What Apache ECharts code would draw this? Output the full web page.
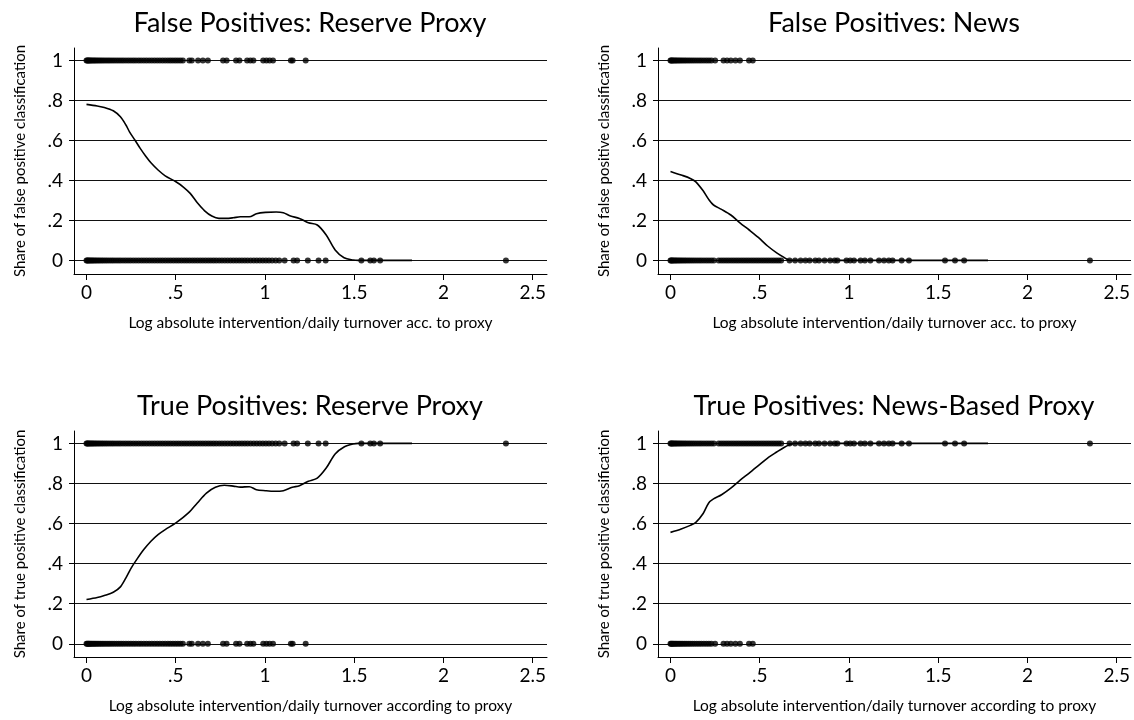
<!DOCTYPE html>
<html>
<head>
<meta charset="utf-8">
<script src="https://cdn.jsdelivr.net/npm/echarts@6/dist/echarts.min.js"></script>
<style>
html,body{margin:0;padding:0;background:#fff;}
#chart{width:1134px;height:720px;}
</style>
</head>
<body>
<div id="chart"></div>
<script>
// ---------- data ----------
const panelTitles = [
  "False Positives: Reserve Proxy",
  "False Positives: News",
  "True Positives: Reserve Proxy",
  "True Positives: News-Based Proxy"
];
const yAxisNames = [
  "Share of false positive classification",
  "Share of false positive classification",
  "Share of true positive classification",
  "Share of true positive classification"
];
const xAxisNames = [
  "Log absolute intervention/daily turnover acc. to proxy",
  "Log absolute intervention/daily turnover acc. to proxy",
  "Log absolute intervention/daily turnover according to proxy",
  "Log absolute intervention/daily turnover according to proxy"
];
const xTickValues = [0, 0.5, 1, 1.5, 2, 2.5];
const xTickLabels = ["0", ".5", "1", "1.5", "2", "2.5"];
const yTickValues = [0, 0.2, 0.4, 0.6, 0.8, 1];
const yTickLabels = ["0", ".2", ".4", ".6", ".8", "1"];

// observations (x positions): reserve proxy, false positives
const reserveFalseX = [0, 0.004, 0.009, 0.013, 0.018, 0.024, 0.03, 0.037, 0.044, 0.052, 0.06, 0.069, 0.078, 0.088, 0.098, 0.109, 0.12, 0.131, 0.143, 0.155, 0.168, 0.181, 0.194, 0.207, 0.221, 0.235, 0.249, 0.263, 0.277, 0.292, 0.306, 0.321, 0.336, 0.351, 0.366, 0.381, 0.396, 0.411, 0.426, 0.441, 0.456, 0.47, 0.484, 0.498, 0.512, 0.526, 0.54,
  0.576, 0.59, 0.625, 0.652, 0.68, 0.765, 0.785, 0.838, 0.857, 0.9, 0.918, 0.935, 0.99, 1.008, 1.026, 1.045, 1.145, 1.155, 1.228];
// reserve proxy, true positives
const reserveTrueX = [0, 0.004, 0.009, 0.014, 0.02, 0.026, 0.033, 0.04, 0.048, 0.056, 0.065, 0.074, 0.084, 0.094, 0.105, 0.116, 0.128, 0.14, 0.152, 0.165, 0.178, 0.191, 0.205, 0.219, 0.233, 0.247, 0.262, 0.277, 0.292, 0.307, 0.322, 0.337, 0.352, 0.367, 0.382, 0.397, 0.412, 0.427, 0.442, 0.457, 0.472, 0.487, 0.502, 0.517, 0.532, 0.547, 0.562, 0.577, 0.592, 0.607, 0.622, 0.637, 0.652, 0.667, 0.682, 0.697, 0.712, 0.727, 0.743, 0.759, 0.775, 0.791, 0.807, 0.823, 0.839, 0.855, 0.871, 0.887, 0.903, 0.92, 0.937, 0.954, 0.971, 0.988, 1.005, 1.022,
  1.04, 1.06, 1.08, 1.11, 1.16, 1.18, 1.24, 1.3, 1.34, 1.54, 1.59, 1.61, 1.645, 2.35];
// news proxy, false positives
const newsFalseX = [0, 0.004, 0.009, 0.014, 0.02, 0.027, 0.034, 0.042, 0.05, 0.059, 0.068, 0.078, 0.088, 0.099, 0.11, 0.122, 0.134, 0.147, 0.16, 0.173, 0.187, 0.201, 0.215, 0.229,
  0.25, 0.297, 0.317, 0.338, 0.364, 0.389, 0.44, 0.461];
// news proxy, true positives
const newsTrueX = [0, 0.004, 0.009, 0.014, 0.02, 0.027, 0.034, 0.042, 0.05, 0.059, 0.068, 0.078, 0.088, 0.099, 0.11, 0.122, 0.134, 0.147, 0.16, 0.173, 0.187, 0.201, 0.215, 0.229, 0.243, 0.27, 0.284, 0.298, 0.312, 0.326, 0.34, 0.354, 0.368, 0.382, 0.396, 0.41, 0.424, 0.438, 0.452, 0.466, 0.48, 0.494, 0.508, 0.522, 0.536, 0.55, 0.564, 0.578, 0.592, 0.606, 0.62,
  0.667, 0.698, 0.729, 0.756, 0.78, 0.811, 0.832, 0.863, 0.894, 0.92, 0.935, 0.986, 1.007, 1.028, 1.065, 1.089, 1.12, 1.168, 1.196, 1.223, 1.244, 1.295, 1.336, 1.538, 1.594, 1.645, 2.35];

// lowess smooths
const lowessReserveFalseX = [0, 0.06, 0.1, 0.15, 0.19, 0.221, 0.241, 0.271, 0.301, 0.331, 0.361, 0.401, 0.441, 0.501, 0.541, 0.581, 0.621, 0.662, 0.702, 0.742, 0.782, 0.822, 0.862, 0.912, 0.952, 1.002, 1.063, 1.103, 1.143, 1.193, 1.243, 1.293, 1.343, 1.393, 1.443, 1.494, 1.524, 1.824];
const lowessReserveFalseY = [0.78, 0.772, 0.765, 0.748, 0.718, 0.677, 0.643, 0.602, 0.56, 0.522, 0.488, 0.452, 0.423, 0.393, 0.368, 0.335, 0.288, 0.248, 0.222, 0.21, 0.21, 0.213, 0.218, 0.218, 0.233, 0.24, 0.242, 0.238, 0.222, 0.21, 0.188, 0.177, 0.127, 0.052, 0.013, 0.002, 0, 0];
const lowessNewsFalseX = [0, 0.06, 0.111, 0.142, 0.183, 0.214, 0.241, 0.286, 0.338, 0.389, 0.441, 0.492, 0.544, 0.595, 0.636, 0.667, 1.779];
const lowessNewsFalseY = [0.445, 0.427, 0.41, 0.393, 0.348, 0.305, 0.277, 0.255, 0.227, 0.188, 0.152, 0.115, 0.072, 0.038, 0.015, 0, 0];
const lowessReserveTrueX = [0, 0.06, 0.1, 0.15, 0.19, 0.221, 0.251, 0.281, 0.321, 0.361, 0.401, 0.441, 0.501, 0.571, 0.621, 0.672, 0.722, 0.772, 0.822, 0.862, 0.912, 0.952, 1.002, 1.052, 1.103, 1.153, 1.193, 1.243, 1.293, 1.343, 1.393, 1.443, 1.494, 1.524, 1.824];
const lowessReserveTrueY = [0.221, 0.231, 0.241, 0.257, 0.284, 0.329, 0.379, 0.42, 0.47, 0.512, 0.545, 0.57, 0.603, 0.653, 0.703, 0.752, 0.781, 0.791, 0.787, 0.782, 0.784, 0.769, 0.764, 0.761, 0.764, 0.781, 0.789, 0.811, 0.827, 0.877, 0.947, 0.982, 0.997, 1, 1];
const lowessNewsTrueX = [0, 0.06, 0.111, 0.142, 0.183, 0.214, 0.241, 0.286, 0.338, 0.389, 0.441, 0.492, 0.544, 0.595, 0.636, 0.667, 0.698, 1.779];
const lowessNewsTrueY = [0.556, 0.573, 0.591, 0.606, 0.65, 0.703, 0.723, 0.744, 0.777, 0.816, 0.852, 0.889, 0.927, 0.957, 0.98, 0.993, 1, 1];

// ---------- chart ----------
const FONT = 'Lato';
const grids = [
  {left: 74, top: 48, width: 473, height: 226},
  {left: 658, top: 48, width: 473, height: 226},
  {left: 74, top: 431, width: 473, height: 226},
  {left: 658, top: 431, width: 473, height: 226}
];
const titleCenters = [[310, 10], [894, 10], [310, 393], [894, 393]];

function pts(xs, y) { return xs.map(x => [x, y]); }
function line(xs, ys) { return xs.map((x, i) => [x, ys[i]]); }

const panels = [
  {one: reserveFalseX, zero: reserveTrueX, lx: lowessReserveFalseX, ly: lowessReserveFalseY},
  {one: newsFalseX, zero: newsTrueX, lx: lowessNewsFalseX, ly: lowessNewsFalseY},
  {one: reserveTrueX, zero: reserveFalseX, lx: lowessReserveTrueX, ly: lowessReserveTrueY},
  {one: newsTrueX, zero: newsFalseX, lx: lowessNewsTrueX, ly: lowessNewsTrueY}
];

const xAxes = [], yAxes = [], series = [], titles = [];
panels.forEach((p, i) => {
  titles.push({
    text: panelTitles[i], left: titleCenters[i][0], top: titleCenters[i][1],
    textAlign: 'center', padding: 0,
    textStyle: {fontFamily: FONT, fontSize: 27, fontWeight: 'normal', color: '#000'}
  });
  xAxes.push({
    type: 'value', gridIndex: i, min: -0.07, max: 2.58,
    axisLine: {show: true, onZero: false, lineStyle: {color: '#000', width: 1}},
    axisTick: {show: true, length: 6, customValues: xTickValues, lineStyle: {color: '#000', width: 1}},
    axisLabel: {customValues: xTickValues, margin: 9, fontFamily: FONT, fontSize: 19, color: '#000',
      formatter: v => xTickLabels[xTickValues.findIndex(t => Math.abs(t - v) < 1e-9)]},
    splitLine: {show: false},
    name: xAxisNames[i], nameLocation: 'middle', nameGap: 41,
    nameTextStyle: {fontFamily: FONT, fontSize: 15.5, color: '#000'}
  });
  const top = i < 2;
  yAxes.push({
    type: 'value', gridIndex: i, min: top ? -0.068 : -0.066, max: 1.062,
    axisLine: {show: true, onZero: false, lineStyle: {color: '#000', width: 1}},
    axisTick: {show: true, length: 5, customValues: yTickValues, lineStyle: {color: '#000', width: 1}},
    axisLabel: {customValues: yTickValues, margin: 11, fontFamily: FONT, fontSize: 19, color: '#000',
      formatter: v => yTickLabels[yTickValues.findIndex(t => Math.abs(t - v) < 1e-9)]},
    splitLine: {show: true, lineStyle: {color: '#111', width: 1}},
    name: yAxisNames[i], nameLocation: 'middle', nameGap: 46,
    nameTextStyle: {fontFamily: FONT, fontSize: 15, color: '#000'}
  });
  series.push({type: 'scatter', xAxisIndex: i, yAxisIndex: i, data: pts(p.one, 1),
    symbol: 'circle', symbolSize: 6, itemStyle: {color: '#000'}, silent: true, z: 3});
  series.push({type: 'scatter', xAxisIndex: i, yAxisIndex: i, data: pts(p.zero, 0),
    symbol: 'circle', symbolSize: 6, itemStyle: {color: '#000'}, silent: true, z: 3});
  series.push({type: 'line', xAxisIndex: i, yAxisIndex: i, data: line(p.lx, p.ly),
    showSymbol: false, smooth: 0.3, lineStyle: {color: '#000', width: 1.6}, silent: true, z: 4});
});

const chart = echarts.init(document.getElementById('chart'), null, {renderer: 'canvas'});
chart.setOption({
  animation: false,
  backgroundColor: '#fff',
  title: titles,
  grid: grids,
  xAxis: xAxes,
  yAxis: yAxes,
  series: series
});
</script>
</body>
</html>
